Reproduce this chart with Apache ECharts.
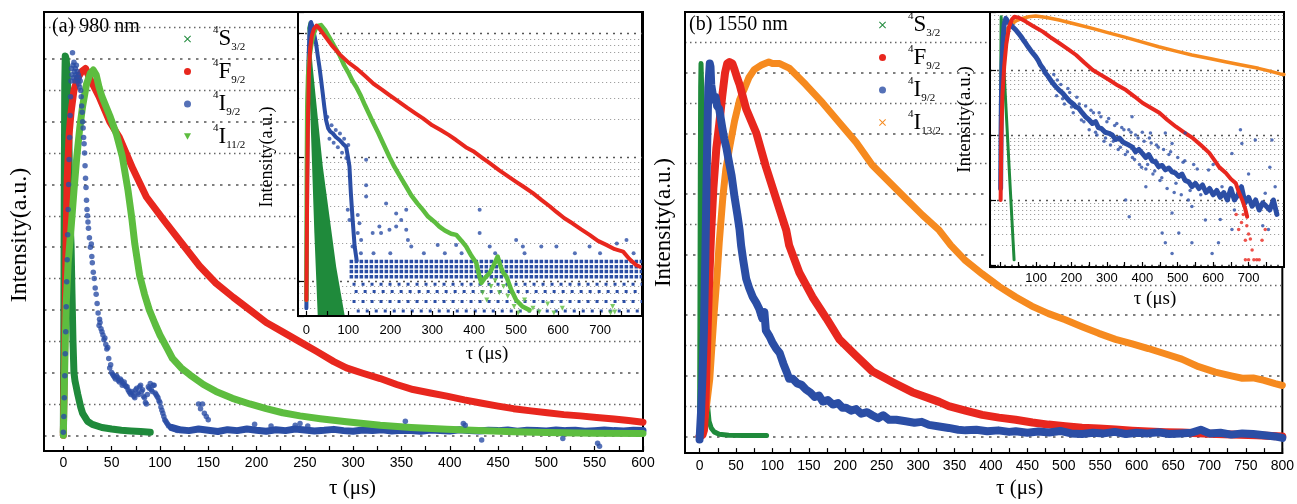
<!DOCTYPE html>
<html><head><meta charset="utf-8">
<script src="https://cdn.jsdelivr.net/npm/echarts@6/dist/echarts.min.js"></script>
<style>html,body{margin:0;padding:0;background:#fff}#c{width:1297px;height:504px}</style>
</head><body><div id="c"></div>
<script>
// ---------------- tick values / labels ----------------
const aTickVals = [0,25,50,75,100,125,150,175,200,225,250,275,300,325,350,375,400,425,450,475,500,525,550,575,600];
const aLabelVals = [0,50,100,150,200,250,300,350,400,450,500,550,600];
const bTickVals = [0,25,50,75,100,125,150,175,200,225,250,275,300,325,350,375,400,425,450,475,500,525,550,575,600,625,650,675,700,725,750,775,800];
const bLabelVals = [0,50,100,150,200,250,300,350,400,450,500,550,600,650,700,750,800];
const aiTickVals = [0,50,100,150,200,250,300,350,400,450,500,550,600,650,700,750];
const aiLabelVals = [0,100,200,300,400,500,600,700];
const biTickVals = [0,50,100,150,200,250,300,350,400,450,500,550,600,650,700,750];
const biLabelVals = [100,200,300,400,500,600,700];
const mainGridMajor = [0,2,4,6,8,10,12];
const mainGridMinor = [1,3,5,7,9,11,13];
const aiGridMajor = [1,10,100];
const aiGridMinor = [0.6,0.7,0.8,0.9,2,3,4,5,6,7,8,9,20,30,40,50,60,70,80,90];
const biGridMajor = [0.1,1,10,100];
const biGridMinor = [0.2,0.3,0.4,0.5,0.6,0.7,0.8,0.9,2,3,4,5,6,7,8,9,20,30,40,50,60,70,80,90,200,300,400,500,600,700];

// ---------------- (a) 980 nm, main panel (linear, a.u.) ----------------
const a_S32 = [[0,0.1],[0.5,3.5],[1,8],[1.5,11.2],[2,12.1],[3,12.0],[4,11.5],[5,10.7],[6,9.0],[6.5,7.6],[7,6.8],[8,6.1],[9,4.5],[10,3.0],[11,2.0],[12,1.75],[13,1.6],[15,1.3],[18,0.9],[20,0.7],[25,0.45],[30,0.35],[40,0.25],[50,0.2],[60,0.16],[70,0.14],[80,0.12],[90,0.1]];
const a_F92 = [[0,0],[1,2],[2,4.2],[3,6.4],[4,8.2],[6,9.6],[8,10.3],[11,11.0],[15,11.4],[19,11.6],[23,11.7],[27,11.4],[32,11.1],[37,10.8],[48,10.0],[58,9.5],[72,8.5],[86,7.6],[103,6.9],[122,6.15],[141,5.4],[158,4.85],[176,4.4],[193,4.0],[210,3.6],[227,3.3],[245,2.98],[262,2.68],[280,2.35],[293,2.15],[310,1.98],[328,1.81],[345,1.62],[362,1.46],[380,1.35],[397,1.25],[415,1.13],[432,1.03],[450,0.93],[466,0.85],[484,0.78],[501,0.72],[518,0.66],[535,0.62],[552,0.57],[570,0.52],[585,0.47],[600,0.42]];
const a_I112 = [[0,0],[1,1.5],[2,3.0],[3,4.2],[5,5.5],[8,6.6],[11,7.8],[14,8.9],[17,9.8],[20,10.5],[24,11.2],[28,11.55],[31,11.65],[34,11.5],[37,11.1],[40,10.8],[44,10.5],[48,10.2],[55,9.6],[61,8.9],[67,7.8],[71,6.9],[74,6.1],[79,5.1],[84,4.5],[89,4.0],[95,3.55],[100,3.2],[107,2.8],[113,2.45],[122,2.15],[131,1.93],[145,1.62],[158,1.4],[175,1.18],[193,1.0],[210,0.85],[227,0.72],[245,0.62],[266,0.53],[293,0.43],[328,0.32],[360,0.25],[397,0.19],[430,0.15],[466,0.11],[500,0.09],[550,0.07],[600,0.06]];
const a_I92_pts = [[0,0.1],[0.5,0.6],[1,1.2],[1.5,1.9],[2,2.6],[2.5,3.3],[3,4.1],[3.5,4.9],[4,5.6],[4.5,6.4],[5,7.2],[5.5,8.0],[6,8.8],[6.5,9.5],[7,10.2],[7.5,10.8],[8,11.3],[8.5,11.7],[9,11.5],[9.5,12.2],[10,11.8],[10.5,11.4],[11,11.9],[11.5,11.6],[12,11.3],[12.5,11.7],[13,11.5],[13.5,11.8],[14,11.4],[14.5,11.6],[15,11.3],[15.5,11.5],[16,11.2],[16.5,11.4],[17,11.1],[17.5,11.3],[18,11.0],[18.5,10.8],[19,10.5],[19.5,10.3],[20,10.0],[20.5,9.8],[21,9.5],[21.5,9.3],[22,9.0],[22.5,8.6],[23,8.2],[23.5,7.9],[24,7.5],[24.5,7.2],[25,7.0],[25.5,6.8],[26,6.6],[27,6.3],[28,6.0],[29,6.1],[29.5,5.7],[30,5.5],[31,5.2],[32,5.0],[33,4.7],[34,4.5],[35,4.2],[36,3.9],[37,3.5],[37.5,3.7],[38,3.6],[39,3.4],[40,3.3],[41,3.2],[42,3.05],[43,3.1],[44,2.9],[45,2.75],[46,2.8],[47,2.45],[48,2.15],[49,2.25],[50,2.0],[51,1.95],[52,1.9],[53,1.85],[54,1.8],[55,1.9],[56,1.85],[57,1.75],[58,1.7],[59,1.8],[60,1.75],[61,1.6],[62,1.65],[63,1.7],[64,1.6],[65,1.55],[66,1.55],[67,1.45],[68,1.4],[69,1.35],[70,1.3],[71,1.4],[72,1.35],[73,1.25],[74,1.2],[75,1.45],[76,1.5],[77,1.35],[78,1.3],[79,1.55],[80,1.6],[81,1.4],[82,1.45],[83,1.25],[84,1.2],[85,1.05],[86,1.0],[87,1.3],[88,1.55],[89,1.5],[90,1.65],[91,1.45],[92,1.4],[93,1.6],[94,1.6],[95,1.35],[96,1.3],[97,1.25],[98,1.2],[99,1.1],[100,1.05],[101,0.9],[102,0.8],[103,0.7],[104,0.6],[105,0.5],[106,0.45],[107,0.4],[108,0.35],[109,0.3],[110,0.3],[112,0.22],[114,0.2],[116,0.18],[118,0.15],[120,0.2],[140,1.0],[142,0.85],[144,1.0],[146,0.7],[148,0.6],[150,0.5],[198,0.35],[215,0.3],[240,0.32],[245,0.38],[253,0.3],[354,0.45],[414,0.38],[416,0.32],[433,-0.15],[517,-0.1],[553,-0.25],[555,-0.35]];
const a_I92_tail = [[112,0.25],[120,0.18],[130,0.15],[140,0.2],[150,0.16],[160,0.12],[170,0.18],[180,0.15],[190,0.2],[200,0.16],[210,0.13],[220,0.18],[230,0.15],[240,0.2],[250,0.17],[260,0.14],[270,0.16],[280,0.19],[290,0.15],[300,0.13],[310,0.17],[320,0.15],[330,0.18],[340,0.14],[350,0.16],[360,0.15],[370,0.13],[380,0.17],[390,0.15],[400,0.14],[410,0.18],[420,0.15],[430,0.14],[440,0.16],[450,0.15],[460,0.17],[470,0.13],[480,0.16],[490,0.15],[500,0.14],[510,0.17],[520,0.15],[530,0.16],[540,0.13],[550,0.15],[560,0.17],[570,0.15],[580,0.14],[590,0.16],[600,0.15]];

// ---------------- (a) inset (log) ----------------
const ai_S32_band = [[2,110],[6,125],[15,53.5],[27,21],[39,8.4],[55,3.3],[71,1.3],[91,0.53],[27,0.53],[19,2.43],[11,15.5],[3,100]];
const ai_F92 = [[0,0.7],[1,2],[2,6],[4,22],[6,48],[9,75],[13,95],[18,108],[24,115],[30,110],[39,100],[60,80],[80,67],[100,58],[119,52],[140,45],[160,39],[180,35],[198,31.6],[220,28],[240,25],[260,22.5],[278,20.5],[300,18],[320,16.5],[340,15],[357,13.7],[380,12],[400,11],[420,9.8],[437,8.9],[460,7.8],[480,7],[500,6.3],[516,5.8],[540,5.1],[560,4.5],[580,4.0],[596,3.6],[615,3.2],[635,2.9],[655,2.6],[675,2.35],[695,2.1],[715,1.95],[735,1.8],[755,1.72],[770,1.5],[785,1.35],[795,1.3]];
const ai_I112 = [[0,0.7],[1,8],[2,25],[4,45],[6,58],[8,66],[11,78],[14,88],[18,100],[22,108],[27,114],[35,116],[45,105],[55,92],[65,80],[79,66.5],[90,55],[100,48],[110,41],[118.6,36.9],[130,31],[140,26],[158,19.3],[170,16],[180,13.5],[198,10],[210,8.3],[225,6.8],[238,5.75],[250,4.9],[265,4.2],[277.6,3.74],[290,3.3],[305,3.0],[317,2.74],[330,2.55],[345,2.4],[357,2.35],[370,2.1],[381,1.89],[393,1.6],[405,1.39],[412,1.1],[417,0.96],[425,1.05],[437,1.16],[447,1.35],[456,1.57],[463,1.3],[470,1.15],[477,1.08],[488,0.85],[500,0.7],[515,0.62],[532,0.58]];
const ai_I112_pts = [[420,0.8],[430,0.7],[440,0.9],[450,1.0],[460,0.8],[470,0.9],[480,0.75],[495,0.62],[505,0.55],[520,0.7],[540,0.6],[555,0.56],[575,0.65],[590,0.55],[610,0.6],[725,0.55],[730,0.62],[735,0.56]];
const ai_I92 = [[0,0.6],[1,2],[2,8],[3,25],[5,60],[7,95],[9,115],[11,123],[14,115],[18,100],[23,82.6],[27,66],[31,53.5],[35,42],[39,32.6],[43,25],[47,19.8],[52,17],[57,16],[63,15.5],[70,14.5],[79,13.7],[87,12.8],[94.6,12.1],[99,10],[102.6,8.4],[106,5.1],[110,3.2],[115,1.9],[120,1.45]];
const ai_I92_pts = [[50,21],[55,14],[60,18],[65,13],[70,16.5],[75,12],[80,15.5],[85,10.8],[90,14],[95,9.8],[100,12.5],[103,7],[98.6,3.74],[102.6,3.1],[122.5,3.4],[126.5,2.92],[122.5,2.43],[130.5,2.14],[142.4,5.9],[142.4,4.8],[142.4,9.5],[158,2.43],[174,2.74],[178,2.43],[190,4.2],[198,2.58],[214,3.5],[214,2.74],[226,3.1],[238,2.58],[242,2.14],[238,3.74],[313,1.95],[357,1.95],[413,3.74],[413,2.43],[437,1.89],[500,2.14],[516,1.89],[596,1.89],[675,1.89],[763,2.14],[110,1.89],[130,1.67],[160,1.67],[200,1.67],[250,1.89],[280,1.67],[330,1.67],[370,1.67],[450,1.67],[520,1.67],[560,1.89],[640,1.67],[700,1.67],[740,2.0],[780,1.67]];
// quantised count levels of 4I9/2 (start t, end t, level)
const ai_I92_rowsDense = [[103,800,1.43],[103,800,1.30],[103,800,1.19],[103,800,1.08]];
const ai_I92_rowsSparse = [[110,800,0.94],[115,800,0.82],[110,800,0.68],[120,800,0.57]];

// ---------------- (b) 1550 nm, main panel (linear, a.u.) ----------------
const b_S32 = [[0,0],[0.5,4],[1,8.5],[1.5,11.5],[2,12.3],[3,12.3],[3.5,11],[4,9],[5,6.5],[6,4.5],[7,3],[8,2],[9,1.4],[10,1.45],[11,1.0],[13,0.5],[16,0.28],[20,0.15],[27,0.07],[40,0.04],[60,0.03],[92,0.03]];
const b_F92 = [[0,0],[4,0.05],[6,0.2],[8,1.0],[9,1.9],[11,3.5],[13,5.0],[16,6.8],[19,8.2],[23,9.5],[27,10.3],[31,11.2],[35,12.0],[38,12.3],[41,12.35],[45,12.3],[48,12.1],[52,11.8],[55,11.6],[64,10.8],[78,10.0],[91,8.9],[105,7.85],[119,6.8],[123,6.3],[137,5.4],[155,4.6],[174,3.9],[192,3.2],[215,2.66],[237,2.15],[265,1.79],[292,1.46],[329,1.14],[342,1.0],[365,0.85],[388,0.71],[411,0.62],[434,0.55],[457,0.46],[479,0.39],[502,0.34],[525,0.29],[548,0.26],[571,0.23],[594,0.19],[616,0.16],[640,0.14],[662,0.13],[700,0.09],[730,0.06],[765,0.04],[800,0.0]];
const b_I92 = [[0,-0.1],[2,0.8],[4,2.0],[6,3.5],[8,6.0],[10,9.0],[12,11.5],[14,12.3],[15,12.2],[16,11.6],[18,11.3],[20,11.1],[22,11.2],[24,10.9],[27,10.8],[29,10.5],[31,10.2],[34,9.8],[37,9.5],[40,9.1],[44,8.6],[48,7.9],[52,7.3],[55,6.8],[57,6.3],[60,5.8],[64,5.2],[68,4.9],[73,4.6],[78,4.4],[82,4.2],[86,3.9],[89,4.1],[91,3.5],[96,3.3],[100,3.1],[105,2.9],[110,2.75],[115,2.4],[120,2.1],[123,1.9],[128,1.9],[134,1.75],[140,1.7],[146,1.55],[152,1.45],[158,1.3],[164,1.35],[169,1.15],[176,1.2],[183,1.05],[190,1.1],[196,0.95],[201,0.95],[208,0.85],[215,0.9],[222,0.75],[230,0.8],[237,0.7],[245,0.6],[252,0.7],[260,0.55],[270,0.55],[283,0.5],[295,0.45],[305,0.48],[315,0.38],[329,0.33],[342,0.28],[355,0.22],[365,0.2],[380,0.22],[395,0.17],[410,0.2],[425,0.15],[434,0.17],[450,0.12],[465,0.16],[480,0.13],[495,0.18],[510,0.1],[525,0.08],[540,0.12],[555,0.1],[570,0.15],[585,0.08],[600,0.12],[615,0.1],[630,0.14],[645,0.08],[660,0.1],[675,0.12],[688,0.22],[700,0.1],[715,0.12],[730,0.06],[745,0.1],[760,0.08],[775,0.04],[790,0.0],[800,-0.05]];
const b_I132 = [[0,0.05],[3,0.2],[7,0.6],[10,1.1],[14,1.9],[17,3.0],[20,4.06],[24,5.3],[27,6.4],[32,7.9],[36,8.8],[41,9.5],[48,10.4],[55,11.1],[62,11.5],[68,11.85],[75,12.1],[85,12.25],[95,12.35],[100,12.3],[110,12.3],[123,12.15],[146,11.6],[169,11.0],[192,10.35],[215,9.7],[237,8.95],[260,8.4],[283,7.85],[306,7.3],[329,6.8],[345,6.3],[365,5.8],[388,5.36],[411,4.95],[434,4.6],[456,4.3],[479,4.05],[502,3.85],[525,3.62],[548,3.4],[571,3.2],[594,3.05],[616,2.9],[640,2.72],[662,2.55],[685,2.3],[708,2.12],[730,2.0],[745,1.92],[760,1.93],[775,1.85],[790,1.74],[800,1.68]];

// ---------------- (b) inset (log) ----------------
const bi_S32 = [[0,2],[0.8,200],[1.5,660],[5,290],[10,89],[15,27],[20,8.3],[25,2.5],[30,0.78],[35,0.24],[38,0.12]];
const bi_I132 = [[0,3],[2,20],[4,60],[6,130],[9,230],[14,360],[20,440],[33,520],[45,575],[61,623],[80,660],[99,676],[130,640],[165,588],[210,510],[259,437],[305,372],[353,317],[400,268],[446,228],[495,195],[540,170],[590,150],[634,134],[680,119],[728,106],[760,96],[789,87],[800,85]];
const bi_F92 = [[0,1],[2,10],[5,40],[10,112],[16,250],[24,464],[32,600],[39,661],[50,640],[70,560],[90,480],[119,389],[140,320],[166,258],[190,210],[213,170],[236,130],[260,100],[283,84],[307,70],[330,58],[354,49],[378,39],[401,31],[425,26],[448,22],[471,17],[495,13.4],[518,11],[542,9],[565,7],[589,5.3],[605,4],[617,3.2],[636,2.6],[650,2.1],[664,1.8],[673,1.3],[682,1.0],[690,0.75],[696,0.55]];
const bi_F92_pts = [[672,0.35],[680,0.45],[691,0.24],[700,0.3],[710,0.17],[691,0.12],[700,0.12],[723,0.12],[747,0.35],[738,0.24],[715,0.12],[730,0.12],[665,0.6],[685,0.6],[695,0.4],[705,0.25]];
const bi_I92 = [[0,1.5],[1,8],[2,30],[4,120],[7,300],[10,500],[14.6,624],[20,560],[28,500],[35,455],[43,412],[50,370],[57,330],[64,290],[71,257],[78,225],[85,200],[92,178],[99,160],[106,140],[113,118],[120,105],[127,89],[134,80],[141,70],[148,62],[155,56],[165,49],[175,44],[185,38],[195,33],[205,30],[212,27],[220,26],[230,22],[240,19],[250,17],[259,15],[268,16],[276,13],[285,12.5],[295,11],[306,10.6],[315,10],[325,8.5],[335,9],[345,7.8],[353,7.4],[362,7],[372,6.5],[381,5.5],[390,6],[400,5.2],[410,4.5],[418,5],[428,4],[438,3.8],[446,3.25],[456,3.4],[465,2.9],[475,3.1],[484,2.7],[493,2.6],[503,2.3],[512,2.5],[521,2.0],[531,1.9],[540,1.6],[550,1.8],[560,1.5],[570,1.7],[580,1.3],[590,1.5],[600,1.2],[610,1.4],[620,1.1],[630,1.3],[640,1.0],[650,1.5],[660,1.0],[670,1.2],[680,1.6],[690,0.9],[700,1.1],[710,0.8],[720,1.0],[730,0.7],[740,0.9],[750,0.8],[760,0.7],[770,1.0],[780,0.6]];
const bi_I92_pts = [[150,85],[158,40],[170,60],[180,30],[195,45],[205,22],[215,38],[228,17],[240,28],[250,12],[262,22],[272,10],[283,19],[292,8],[300,16],[310,7],[322,14],[332,6],[342,13],[352,5],[362,12],[372,4.5],[381,10],[392,3.5],[400,11],[410,3],[420,9],[430,2.5],[440,7],[450,2],[460,6],[470,1.5],[480,5.5],[490,1.3],[500,4.5],[510,1.2],[520,4],[530,1.0],[545,3.5],[371,19],[423,10.7],[465,10.7],[484,7.4],[521,10.7],[587,2.9],[625,1.6],[653,5.2],[677,12],[681,7.4],[719,8.4],[766,8.4],[775,1.6],[747,1.27],[540,0.79],[484,0.63],[456,0.31],[503,0.31],[578,0.49],[465,0.22],[540,0.22],[615,0.22],[484,0.15],[597,0.15],[353,1.0],[363,0.55],[653,0.35],[756,0.35],[410,1.6],[438,4.1],[600,3.5],[620,0.5],[700,2.5],[740,0.4],[760,3.2],[660,0.7],[160,70],[175,36],[190,52],[200,27],[222,30],[235,16],[255,24],[268,11],[278,22],[296,9],[305,18],[318,8],[328,15],[338,6.5],[348,12],[358,5.5],[368,11],[378,4.2],[388,9],[398,3.2],[405,8],[415,3.5],[425,7.5],[435,2.8],[445,6.5],[455,2.2],[475,5],[495,1.8],[515,3.8],[535,1.4],[555,3],[565,1.2]];

// ---------------- legend text ----------------
const legendText = {S32:['S','3/2'], F92:['F','9/2'], I92:['I','9/2'], I112:['I','11/2'], I132:['I','13/2']};

const COL = {dk:'#1f8a3b', lg:'#5dbd3f', rd:'#e8271e', bl:'#2b4ea5', or:'#f68a1f'};
const SERIF = 'Liberation Serif', SANS = 'Liberation Sans';
const ICON_X = 'path://M0,1L1,0L5,4L9,0L10,1L6,5L10,9L9,10L5,6L1,10L0,9L4,5Z';
const ICON_TRI = 'path://M0,0L10,0L5,9Z';

const majorStyle = {color:'#555', width:1.6, type:[2.5,5.5]};
const minorStyle = {color:'#666', width:1.4, type:[1.5,3.5]};
const insetMajor = {color:'#555', width:1.4, type:[2,5]};
const insetMinor = {color:'#a0a0a0', width:1, type:[1.2,2.8]};
function hLines(major, minor, z, ms, ns) {
  return {silent:true, z:z, symbol:['none','none'], label:{show:false}, emphasis:{disabled:true}, animation:false,
    data: major.map(v => ({yAxis:v, lineStyle:ms})).concat(minor.map(v => ({yAxis:v, lineStyle:ns})))};
}
function line(name, color, data, idx, width, z, extra) {
  return Object.assign({type:'line', name:name, data:data, xAxisIndex:idx, yAxisIndex:idx, symbol:'none', showSymbol:false,
    smooth:false, silent:true, animation:false, z:z, color:color,
    lineStyle:{color:color, width:width, cap:'round', join:'round'}, itemStyle:{color:color}}, extra || {});
}
function scat(name, color, data, idx, size, z, symbol, extra) {
  return Object.assign({type:'scatter', name:name, data:data, xAxisIndex:idx, yAxisIndex:idx, symbol:symbol || 'circle',
    symbolSize:size, silent:true, animation:false, z:z, color:color, itemStyle:{color:color}}, extra || {});
}
function rowSeries(rows, idx, width, dash, z) {
  return rows.map(r => line('I92', COL.bl, [[r[0], r[2]], [r[1], r[2]]], idx, width, z,
    {lineStyle:{color:COL.bl, width:width, type:dash, cap:'butt'}}));
}

function xAx(gi, min, max, ticks, labels, name, gap, padL, nameSize, labelSize, margin, z) {
  return {type:'value', gridIndex:gi, min:min, max:max, z:z,
    axisLine:{show:true, onZero:false, lineStyle:{color:'#000', width:2}},
    axisTick:{show:true, inside:true, length:5, customValues:ticks, lineStyle:{color:'#000', width:1.2}},
    axisLabel:{show:true, customValues:labels, margin:margin, color:'#000', fontFamily:SANS, fontSize:labelSize},
    splitLine:{show:false},
    name:name, nameLocation:'middle', nameGap:gap,
    nameTextStyle:{fontFamily:SERIF, fontSize:nameSize, color:'#000', padding:[0,0,0,padL]}};
}
function yAx(gi, type, min, max, name, gap, pad, nameSize, z, ticks) {
  return {type:type, gridIndex:gi, min:min, max:max, z:z, logBase:10,
    axisLine:{show:true, onZero:false, lineStyle:{color:'#000', width:2}},
    axisTick:{show:!!ticks, inside:true, length:6, lineStyle:{color:'#000', width:1.2}},
    axisLabel:{show:false}, splitLine:{show:false},
    name:name, nameLocation:'middle', nameGap:gap,
    nameTextStyle:{fontFamily:SERIF, fontSize:nameSize, color:'#000', padding:pad}};
}

const legendRich = {
  sup:{fontFamily:SERIF, fontSize:11, lineHeight:11, verticalAlign:'top', color:'#000', padding:[0,0,0,17]},
  m:{fontFamily:SERIF, fontSize:23, lineHeight:28, verticalAlign:'middle', color:'#000'},
  sub:{fontFamily:SERIF, fontSize:11, lineHeight:11, verticalAlign:'bottom', color:'#000'}
};
function legendCfg(left, top, names) {
  return {orient:'vertical', left:left, top:top, padding:0, itemGap:4.5, itemWidth:7, itemHeight:7,
    selectedMode:false, z:7, lineStyle:{width:0},
    data:names.map(n => ({name:n, icon: n === 'S32' || n === 'I132' ? ICON_X : (n === 'I112' ? ICON_TRI : 'circle')})),
    formatter: n => '{sup|4}{m|' + legendText[n][0] + '}{sub|' + legendText[n][1] + '}',
    textStyle:{rich:legendRich}};
}

const series = [
  // (a) main
  line('S32', COL.dk, a_S32, 0, 7, 2, {markLine: hLines(mainGridMajor, mainGridMinor, 1, majorStyle, minorStyle)}),
  scat('I92', COL.bl, a_I92_pts, 0, 5.5, 2),
  line('I92', COL.bl, a_I92_tail, 0, 7, 2),
  line('F92', COL.rd, a_F92, 0, 7, 2),
  line('I112', COL.lg, a_I112, 0, 7, 2),
  // (a) inset
  {type:'custom', name:'S32', xAxisIndex:1, yAxisIndex:1, z:5, silent:true, animation:false, color:COL.dk,
   data:[[0,1]], markLine: hLines(aiGridMajor, aiGridMinor, 4, insetMajor, insetMinor),
   renderItem: function (params, api) {
     return {type:'polygon', shape:{points: ai_S32_band.map(p => api.coord(p))}, style:{fill:COL.dk}};
   }},
  ...rowSeries(ai_I92_rowsDense, 1, 3.5, [3.5,1.5], 5),
  ...rowSeries(ai_I92_rowsSparse, 1, 3, [3,6], 5),
  scat('I92', COL.bl, ai_I92_pts, 1, 4, 5),
  line('I92', COL.bl, ai_I92, 1, 4, 5),
  line('I112', COL.lg, ai_I112, 1, 4.5, 5),
  scat('I112', COL.lg, ai_I112_pts, 1, 5, 5, ICON_TRI),
  line('F92', COL.rd, ai_F92, 1, 4, 5),
  // (b) main
  line('S32', COL.dk, b_S32, 2, 5, 2, {markLine: hLines(mainGridMajor, mainGridMinor, 1, majorStyle, minorStyle)}),
  line('I132', COL.or, b_I132, 2, 7, 2),
  line('F92', COL.rd, b_F92, 2, 8, 2),
  line('I92', COL.bl, b_I92, 2, 8, 2),
  // (b) inset
  line('S32', COL.dk, bi_S32, 3, 3, 5, {markLine: hLines(biGridMajor, biGridMinor, 4, insetMajor, insetMinor)}),
  line('I132', COL.or, bi_I132, 3, 3.5, 5),
  scat('I92', COL.bl, bi_I92_pts, 3, 3.5, 5),
  line('I92', COL.bl, bi_I92, 3, 5, 5),
  line('F92', COL.rd, bi_F92, 3, 4, 5),
  scat('F92', COL.rd, bi_F92_pts, 3, 3.5, 5)
];

const option = {
  backgroundColor:'#fff',
  animation:false,
  grid:[
    {left:44, top:12, width:599, height:449, show:true, borderColor:'#000', borderWidth:2, backgroundColor:'transparent', z:0},
    {left:298, top:12, width:344, height:304, show:true, borderColor:'#000', borderWidth:2, backgroundColor:'#fff', z:3},
    {left:685, top:12, width:599, height:447, show:true, borderColor:'#000', borderWidth:2, backgroundColor:'transparent', z:0},
    {left:990, top:12, width:294, height:255, show:true, borderColor:'#000', borderWidth:2, backgroundColor:'#fff', z:3}
  ],
  xAxis:[
    xAx(0, -20, 600, aTickVals, aLabelVals, 'τ (μs)', 27, 18, 21, 14, 5, 1),
    xAx(1, -20, 800, aiTickVals, aiLabelVals, 'τ (μs)', 29, 34, 19, 13, 8, 6),
    xAx(2, -20, 800, bTickVals, bLabelVals, 'τ (μs)', 22, 72, 21, 14, 6, 1),
    xAx(3, -30, 800, biTickVals, biLabelVals, 'τ (μs)', 21, 36, 19, 13, 5, 6)
  ],
  yAxis:[
    yAx(0, 'value', -0.5, 13.5, 'Intensity(a.u.)', 12, [0,7,0,0], 24, 1, false),
    yAx(1, 'log', 0.52, 148, 'Intensity(a.u.)', 22, [0,0,0,14], 18, 6, true),
    yAx(2, 'value', -0.55, 14.0, 'Intensity(a.u.)', 10, [0,0,0,20], 23, 1, false),
    yAx(3, 'log', 0.093, 780, 'Intensity(a.u.)', 15, [0,0,0,40], 19, 6, true)
  ],
  legend:[
    legendCfg(184, 25, ['S32','F92','I92','I112']),
    legendCfg(879, 11, ['S32','F92','I92','I132'])
  ],
  graphic:[
    {type:'text', left:52, top:17, z:7, style:{text:'(a) 980 nm', font:'20px "Liberation Serif"', fill:'#000'}},
    {type:'text', left:689, top:15, z:7, style:{text:'(b) 1550 nm', font:'20px "Liberation Serif"', fill:'#000'}}
  ],
  series: series
};

const chart = echarts.init(document.getElementById('c'), null, {renderer:'canvas', width:1297, height:504});
chart.setOption(option);
</script></body></html>
